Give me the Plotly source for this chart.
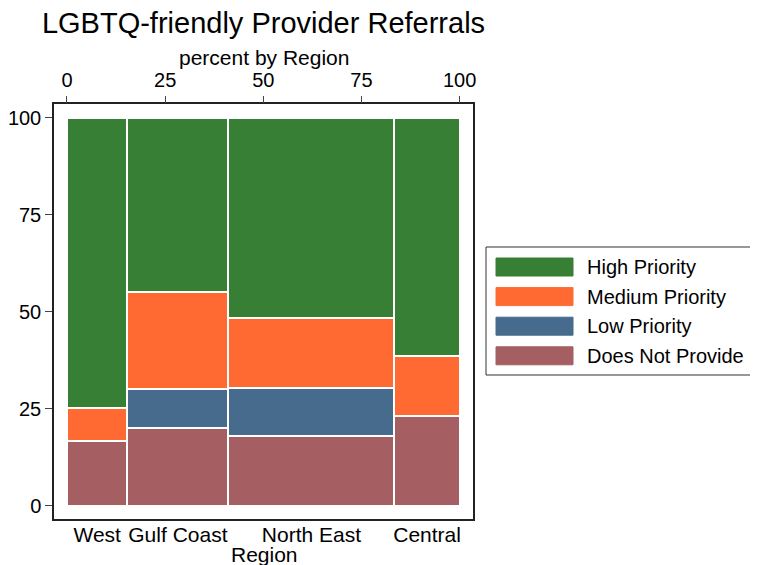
import numpy as np
import plotly.graph_objects as go

# --- DATA ---
REGIONS = ["West", "Gulf Coast", "North East", "Central"]
REGION_SHARE = [15.4, 25.7, 42.3, 16.6]          # percent of all respondents
CATEGORIES = ["Does Not Provide", "Low Priority", "Medium Priority", "High Priority"]
PCT_DOES_NOT = [16.7, 20.0, 18.1, 23.2]
PCT_LOW = [0.0, 10.0, 12.2, 0.0]
PCT_MEDIUM = [8.5, 25.0, 18.2, 15.4]
PCT_HIGH = [74.8, 45.0, 51.5, 61.4]
TOP_TICKS = [0, 25, 50, 75, 100]
Y_TICKS = [0, 25, 50, 75, 100]

COLORS = {"High Priority": "#367F34", "Medium Priority": "#FF6A33",
          "Low Priority": "#476B8C", "Does Not Provide": "#A55E61"}
FONT = "Liberation Sans, Arial, sans-serif"
FS = 20

W, H = 758, 565
OFF = 8                                   # page body margin
L, R, T, B = 54 - OFF, 473 - OFF, 104 - OFF, 519 - OFF   # plot frame in figure pixels

widths = np.array(REGION_SHARE)
centers = np.cumsum(widths) - widths / 2
series = dict(zip(CATEGORIES, [PCT_DOES_NOT, PCT_LOW, PCT_MEDIUM, PCT_HIGH]))

fig = go.Figure()
for cat in CATEGORIES:
    fig.add_trace(go.Bar(x=centers, y=series[cat], width=widths, name=cat,
                         marker=dict(color=COLORS[cat], line=dict(color="white", width=2)),
                         showlegend=False, xaxis="x", yaxis="y"))
# invisible trace so the top axis gets drawn
fig.add_trace(go.Scatter(x=[0, 100], y=[0, 0], xaxis="x2", yaxis="y", mode="markers",
                         marker=dict(opacity=0), hoverinfo="skip", showlegend=False))

xr = [-3.3, 103.4]
yr = [-3.35, 103.5]
tf = dict(family=FONT, size=FS, color="black")
fig.update_layout(
    width=W, height=H, barmode="stack", bargap=0,
    margin=dict(l=L, r=W - R, t=T, b=H - B, autoexpand=False),
    paper_bgcolor="white", plot_bgcolor="white",
    font=dict(family=FONT, size=FS, color="black"),
    title=dict(text="LGBTQ-friendly Provider Referrals", font=dict(size=29),
               x=0.5, xref="paper", xanchor="center",
               y=1 - (23 - OFF) / H, yref="container", yanchor="middle"),
    xaxis=dict(range=xr, tickvals=centers, ticktext=REGIONS, ticks="",
               tickfont=dict(family=FONT, size=21, color="black"), automargin=False,
               ticklabelstandoff=-4,
               showgrid=False, zeroline=False, showline=True, linecolor="#222",
               linewidth=1.5, mirror=True),
    xaxis2=dict(range=xr, overlaying="x", side="top", tickvals=TOP_TICKS,
                ticks="outside", ticklen=7, tickcolor="#444", tickwidth=1.2,
                tickfont=tf, automargin=False, ticklabelstandoff=1,
                showgrid=False, zeroline=False),
    yaxis=dict(range=yr, tickvals=Y_TICKS, ticks="outside", ticklen=7,
               tickcolor="#444", tickwidth=1.2, showgrid=False, zeroline=False,
               tickfont=tf, automargin=False,
               showline=True, linecolor="#222", linewidth=1.5, mirror=True),
    showlegend=False,
)


def px(x, y):
    # reference-image pixel -> paper coordinates
    x, y = x - OFF, y - OFF
    return (x - L) / (R - L), (B - y) / (B - T)


# axis titles placed by pixel position
for text, x, y in [("percent by Region", 264, 57), ("Region", 264, 554)]:
    ax, ay = px(x, y)
    fig.add_annotation(text=text, xref="paper", yref="paper", x=ax, y=ay,
                       xanchor="center", yanchor="middle", showarrow=False,
                       font=dict(size=21))

# hand-drawn legend box to match wide swatches
x0, y0 = px(486, 247)
x1, y1 = px(757, 375)
fig.add_shape(type="rect", xref="paper", yref="paper", x0=x0, y0=y0, x1=x1, y1=y1,
              line=dict(color="#333", width=1), fillcolor="white")
legend_order = ["High Priority", "Medium Priority", "Low Priority", "Does Not Provide"]
for i, cat in enumerate(legend_order):
    cy = 267 + i * 29.6
    sx0, sy0 = px(496, cy - 9)
    sx1, sy1 = px(573, cy + 9)
    fig.add_shape(type="rect", xref="paper", yref="paper", x0=sx0, y0=sy0, x1=sx1, y1=sy1,
                  line=dict(color=COLORS[cat], width=1), fillcolor=COLORS[cat])
    tx, ty = px(585, cy)
    fig.add_annotation(text=cat, xref="paper", yref="paper", x=tx, y=ty,
                       xanchor="left", yanchor="middle", showarrow=False,
                       font=dict(size=FS))

fig.write_html("out.html")
